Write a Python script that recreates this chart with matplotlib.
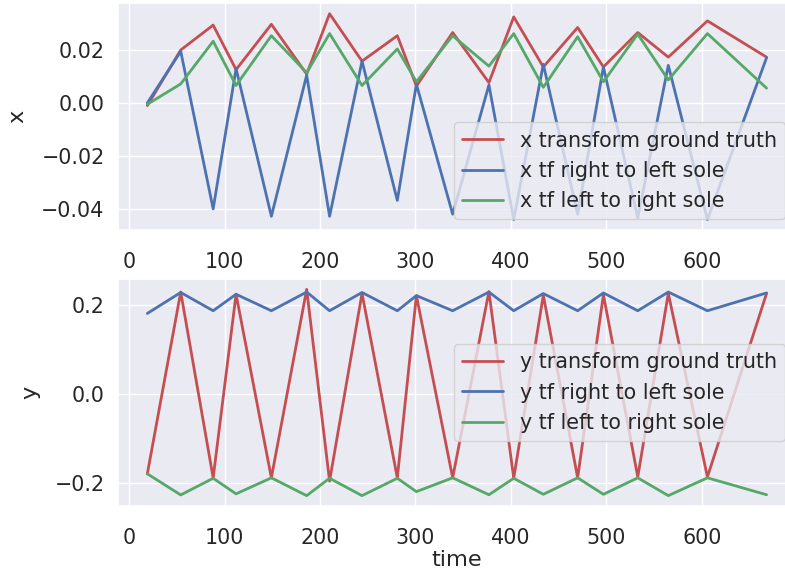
import numpy as np
import matplotlib
matplotlib.use("Agg")
import matplotlib.pyplot as plt
import seaborn as sns

# sample times (shared by both panels)
time = [19, 54, 88, 112, 149, 186, 210, 244, 281, 301,
        339, 377, 403, 434, 470, 497, 533, 565, 606, 668]

x_gt = [-0.001, 0.020, 0.0294, 0.0126, 0.0297, 0.0109, 0.0337, 0.0158, 0.0254, 0.0064,
        0.0266, 0.0077, 0.0325, 0.0136, 0.0285, 0.0136, 0.0266, 0.0173, 0.031, 0.0173]
x_r2l = [0.000, 0.0195, -0.040, 0.013, -0.0428, 0.0105, -0.0428, 0.0158, -0.0368, 0.0071,
         -0.042, 0.0068, -0.044, 0.0146, -0.042, 0.0136, -0.0434, 0.0142, -0.044, 0.0171]
x_l2r = [-0.0005, 0.0072, 0.0233, 0.0066, 0.0254, 0.0114, 0.0262, 0.0066, 0.0204, 0.008,
         0.0254, 0.0139, 0.0262, 0.0059, 0.025, 0.008, 0.026, 0.0087, 0.0262, 0.0056]

y_gt = [-0.179, 0.229, -0.188, 0.224, -0.188, 0.235, -0.1955, 0.226, -0.188, 0.221,
        -0.188, 0.230, -0.189, 0.222, -0.188, 0.223, -0.186, 0.226, -0.186, 0.226]
y_r2l = [0.181, 0.228, 0.187, 0.224, 0.187, 0.229, 0.187, 0.228, 0.187, 0.221,
         0.187, 0.229, 0.187, 0.2256, 0.187, 0.227, 0.187, 0.229, 0.187, 0.227]
y_l2r = [-0.179, -0.2264, -0.189, -0.224, -0.188, -0.228, -0.189, -0.228, -0.189, -0.219,
         -0.188, -0.226, -0.189, -0.225, -0.188, -0.225, -0.188, -0.228, -0.188, -0.226]

sns.set_theme(style="darkgrid", font_scale=1.35, color_codes=True)

fig = plt.figure(figsize=(7.85, 5.73), dpi=100)
ax1 = fig.add_axes([0.150, 0.599, 0.863, 0.395])
ax2 = fig.add_axes([0.150, 0.117, 0.863, 0.396])

ax1.plot(time, x_gt, 'r-', lw=2, label='x transform ground truth')
ax1.plot(time, x_r2l, 'b-', lw=2, label='x tf right to left sole')
ax1.plot(time, x_l2r, 'g-', lw=2, label='x tf left to right sole')
ax1.set_ylabel('x', labelpad=10)
ax1.set_xlim(-12, 698)
ax1.legend(loc='lower right')

ax2.plot(time, y_gt, 'r-', lw=2, label='y transform ground truth')
ax2.plot(time, y_r2l, 'b-', lw=2, label='y tf right to left sole')
ax2.plot(time, y_l2r, 'g-', lw=2, label='y tf left to right sole')
ax2.set_ylabel('y', labelpad=10)
ax2.set_xlabel('time', labelpad=1)
ax2.set_xlim(-12, 698)
ax2.legend(loc='center right')

for ax in (ax1, ax2):
    ax.tick_params(axis='x', pad=10)

fig.savefig('out.png', dpi=100)
